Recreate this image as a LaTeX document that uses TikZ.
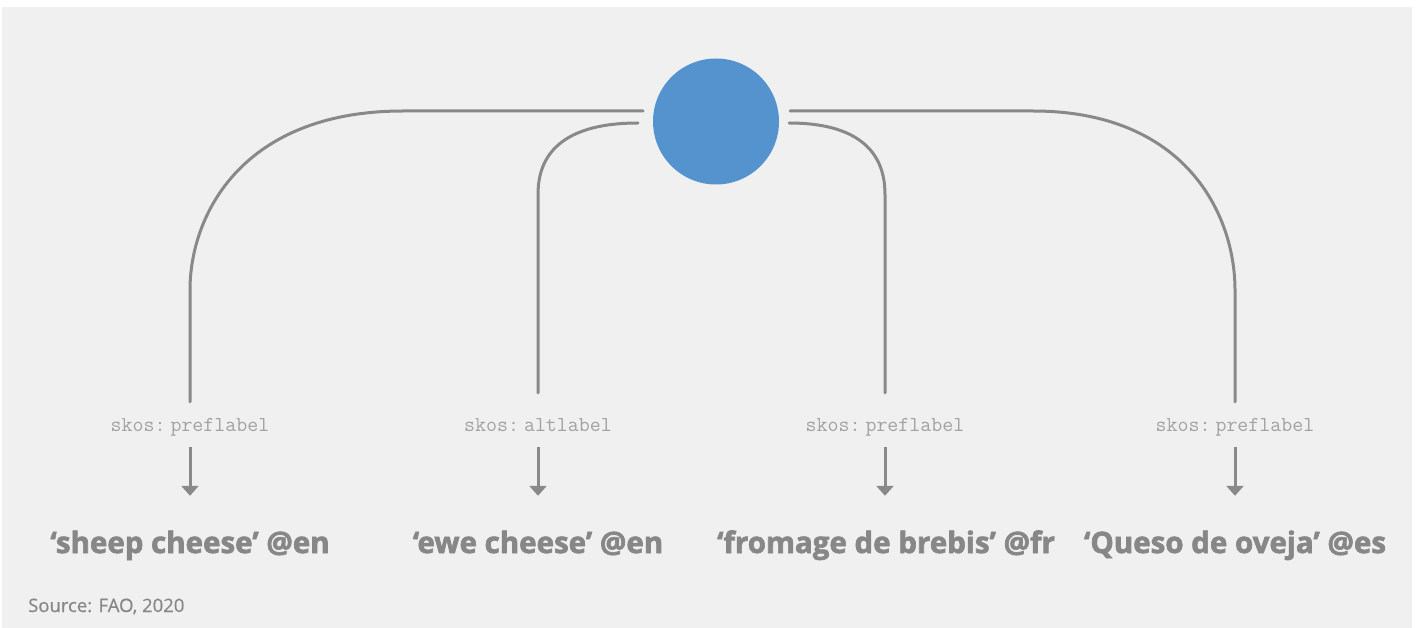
\documentclass[tikz,border=0pt]{standalone}
\usepackage{fontspec}
\setmainfont{Open Sans}
\newfontfamily\termfont{Open Sans}[BoldFeatures={FakeBold=2.2}]
\newfontfamily\srcfont{Open Sans}[FakeBold=0.6]
\usetikzlibrary{arrows.meta}
\definecolor{bggray}{HTML}{F0F0F0}
\definecolor{linegray}{HTML}{898989}
\definecolor{relgray}{HTML}{A2A2A2}
\definecolor{termgray}{HTML}{878787}
\definecolor{conceptblue}{HTML}{5593CF}

\begin{document}
\begin{tikzpicture}[x=1pt,y=-1pt,
  link/.style={line width=3pt, linegray, line cap=round},
  arr/.style={line width=3pt, linegray, -{Triangle[width=17pt,length=10pt]}},
  rel/.style={font=\ttfamily\fontsize{21.3}{24}\selectfont, text=relgray, anchor=base,
    inner sep=0pt, text height=13pt, text depth=4pt},
  term/.style={font=\termfont\bfseries\fontsize{29.5}{34}\selectfont, text=termgray, anchor=base,
    inner sep=0pt, text height=22pt, text depth=7pt}]
\useasboundingbox (0,0) rectangle (1416,628);
\fill[white] (0,0) rectangle (1416,628);
\fill[bggray] (2,7) rectangle (1412,628);

\node[circle, fill=conceptblue, minimum size=126pt, inner sep=0pt] (concept) at (716,121.5) {};
\coordinate (outL) at (643,111);
\coordinate (inL) at (638,123);
\coordinate (inR) at (789,123);
\coordinate (outR) at (790,111);

\node[rel] (relEn) at (190,431) {skos:\kern5pt preflabel};
\node[rel] (relAlt) at (538,431) {skos:\kern5pt altlabel};
\node[rel] (relFr) at (885,431) {skos:\kern5pt preflabel};
\node[rel] (relEs) at (1235,431) {skos:\kern5pt preflabel};

\node[term] (termEn) at (190,553) {‘sheep cheese’ @en};
\node[term] (termEwe) at (538,553) {‘ewe cheese’ @en};
\node[term] (termFr) at (886,553) {‘fromage de brebis’ @fr};
\node[term] (termEs) at (1235,553) {‘Queso de oveja’ @es};

\draw[link, shorten >=16pt] (outL) -- (403,111) .. controls (243,111) and (190,214) .. (190,290) -- (relEn.north);
\draw[link, shorten >=25pt] (inL) .. controls (545,123) and (538,171) .. (538,195) -- (relAlt.north);
\draw[link, shorten >=25pt] (inR) .. controls (878,123) and (885,171) .. (885,195) -- (relFr.north);
\draw[link, shorten >=16pt] (outR) -- (1033,111) .. controls (1185,111) and (1235,214) .. (1235,290) -- (relEs.north);

\draw[arr, shorten <=12pt, shorten >=35pt] (relEn.south) -- (relEn.south |- termEn.north);
\draw[arr, shorten <=12pt, shorten >=35pt] (relAlt.south) -- (relAlt.south |- termEwe.north);
\draw[arr, shorten <=12pt, shorten >=35pt] (relFr.south) -- (relFr.south |- termFr.north);
\draw[arr, shorten <=12pt, shorten >=35pt] (relEs.south) -- (relEs.south |- termEs.north);

\node[anchor=base west, inner sep=0pt, font=\srcfont\fontsize{18.5}{20}\selectfont, text=termgray] (source) at (28,612) {Source: FAO, 2020};
\end{tikzpicture}
\end{document}
